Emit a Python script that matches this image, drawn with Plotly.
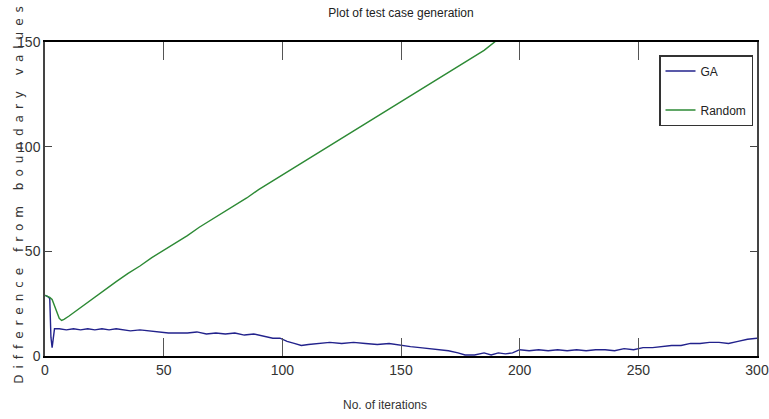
import plotly.graph_objects as go

# ---- data ----
ga_x = [0, 1, 2, 2.5, 3, 3.5, 4, 6, 9, 12, 15, 18, 21, 24, 27, 30, 33, 36, 40, 44, 48, 52, 56, 60,
        64, 68, 72, 76, 80, 84, 88, 92, 96, 99, 102, 105, 108, 111, 115, 120, 125, 130, 135, 140,
        145, 150, 154, 158, 162, 166, 170, 174, 177, 181, 185, 188, 191, 194, 197, 200, 204, 208,
        212, 216, 220, 224, 228, 232, 236, 240, 244, 248, 252, 256, 260, 264, 268, 272, 276, 280,
        284, 288, 292, 296, 300]
ga_y = [29, 28.5, 27.5, 9, 4, 10, 13, 13, 12.5, 13, 12.5, 13, 12.5, 13, 12.5, 13, 12.5, 12, 12.5,
        12, 11.5, 11, 11, 11, 11.5, 10.5, 11, 10.5, 11, 10, 10.5, 9.5, 8.5, 8.5, 7, 6, 5, 5.5, 6,
        6.5, 6, 6.5, 6, 5.5, 6, 5, 4.5, 4, 3.5, 3, 2.5, 1.5, 0.5, 0.5, 1.5, 0.5, 1.5, 1, 1.5, 3,
        2.5, 3, 2.5, 3, 2.5, 3, 2.5, 3, 3, 2.5, 3.5, 3, 4, 4, 4.5, 5, 5, 6, 6, 6.5, 6.5, 6, 7, 8,
        8.5]

rnd_x = [0, 1, 2, 3, 4, 5, 6, 7, 8, 10, 13, 16, 20, 25, 30, 35, 40, 45, 50, 55, 60, 65, 70, 75,
         80, 85, 90, 95, 100, 105, 110, 115, 120, 125, 130, 135, 140, 145, 150, 155, 160, 165,
         170, 175, 180, 185, 190]
rnd_y = [29, 28.5, 28, 27, 24, 20.5, 18, 17, 17.5, 19, 21.5, 24, 27.5, 31.5, 35.5, 39.5, 43, 47,
         50.5, 54, 57.5, 61.5, 65, 68.5, 72, 75.5, 79.5, 83, 86.5, 90, 93.5, 97, 100.5, 104, 107.5,
         111, 114.5, 118, 121.5, 125, 128.5, 132, 135.5, 139, 142.5, 146, 150.5]

x_ticks = [0, 50, 100, 150, 200, 250, 300]
y_ticks = [0, 50, 100, 150]

title_text = "Plot of test case generation"
x_label = "No. of iterations"
y_label = "Difference from boundary values"

NARROW = "Liberation Sans Narrow, Arial Narrow, Liberation Sans, sans-serif"

L, R, T, B = 45, 12, 42, 63
PW = 769 - L - R
PH = 419 - T - B

fig = go.Figure()
fig.add_trace(go.Scatter(x=ga_x, y=ga_y, mode="lines", name="GA", legendgroup="a",
                         line=dict(color="#22228c", width=1.4)))
fig.add_trace(go.Scatter(x=rnd_x, y=rnd_y, mode="lines", name="Random", legendgroup="b",
                         line=dict(color="#2d8a35", width=1.4)))

fig.update_layout(
    width=769, height=419,
    margin=dict(l=L, r=R, t=T, b=B, autoexpand=False),
    paper_bgcolor="white", plot_bgcolor="white",
    showlegend=True,
    title=dict(text=title_text, x=(L + 769 - R) / 2 / 769, xanchor="center",
               y=1 - 13 / 419, yanchor="middle", yref="container",
               font=dict(family=NARROW, size=12, color="#222")),
    legend=dict(x=1 - 4 / PW, y=1 - 13 / PH, xanchor="right", yanchor="top",
                bgcolor="white", bordercolor="#333", borderwidth=1.5,
                font=dict(family=NARROW, size=12, color="#222"),
                traceorder="grouped", tracegroupgap=20),
    xaxis=dict(range=[0, 300], tickvals=x_ticks, ticks="inside", ticklen=18, tickwidth=1,
               tickcolor="#555", showline=True, linecolor="black", linewidth=2, mirror="ticks",
               showgrid=False, zeroline=False, automargin=False, ticklabeloverflow="allow",
               tickfont=dict(family=NARROW, size=14, color="#333")),
    yaxis=dict(range=[0, 150], tickvals=y_ticks, ticks="inside", ticklen=7, tickwidth=1,
               tickcolor="#444", showline=True, linecolor="#444", linewidth=1.5, mirror="ticks",
               showgrid=False, zeroline=False, automargin=False, ticklabeloverflow="allow",
               tickfont=dict(family=NARROW, size=14, color="#333")),
    annotations=[
        dict(text=x_label, xref="paper", yref="paper", x=(385 - L) / PW, y=-49 / PH,
             xanchor="center", yanchor="middle", showarrow=False,
             font=dict(family=NARROW, size=12, color="#333")),
        dict(text=y_label, xref="paper", yref="paper", x=(19 - L) / PW, y=0.52,
             xanchor="center", yanchor="middle", showarrow=False, textangle=-90,
             font=dict(family="DejaVu Sans, sans-serif", size=12, color="#333")),
    ],
)

post = """
var t = document.querySelectorAll('.annotation-text');
t.forEach(function(el){ if (el.textContent.indexOf('Difference') === 0) { el.style.letterSpacing = '6px'; } });
"""
fig.write_html("out.html", post_script=post)
